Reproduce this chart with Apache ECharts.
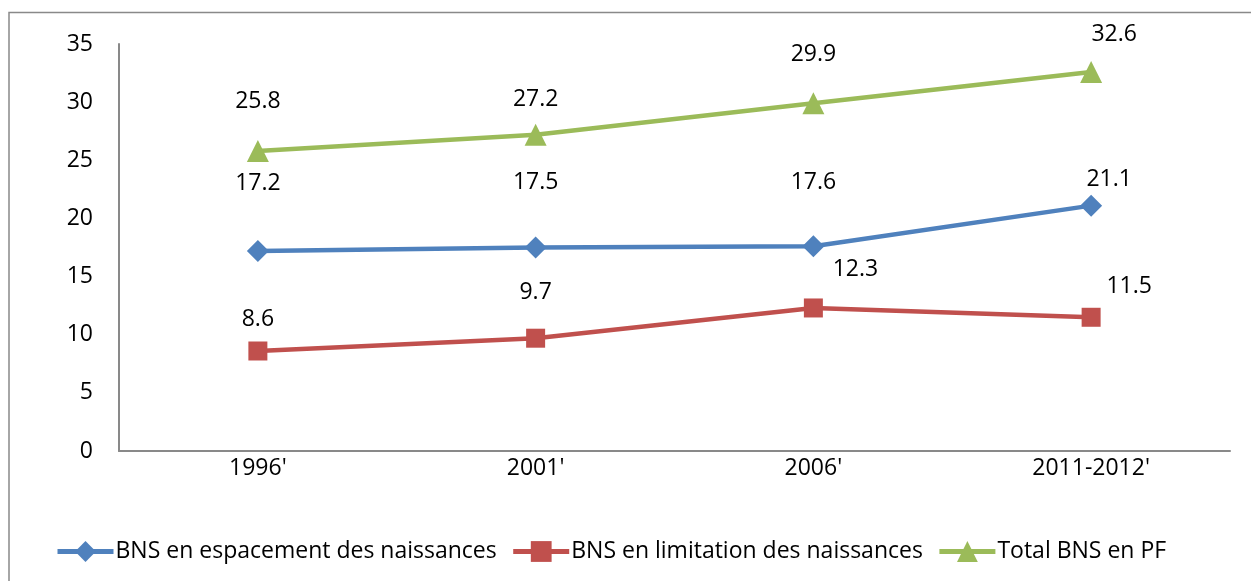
<!DOCTYPE html>
<html><head><meta charset="utf-8">
<script src="https://cdn.jsdelivr.net/npm/echarts@6/dist/echarts.min.js"></script>
<style>html,body{margin:0;padding:0;background:#fff}#c{width:1251px;height:581px}</style>
</head><body><div id="c"></div>
<script>
var categories = ["1996'", "2001'", "2006'", "2011-2012'"];
var espacement = [17.2, 17.5, 17.6, 21.1];
var limitation = [8.6, 9.7, 12.3, 11.5];
var total = [25.8, 27.2, 29.9, 32.6];
var yTicks = { min: 0, max: 35, interval: 5 };
var names = ['BNS en espacement des naissances', 'BNS en limitation des naissances', 'Total BNS en PF'];

var offEsp = [[0,-68],[0,-65],[0,-64],[18,-26]];
var offLim = [[0,-32],[0,-46],[42,-39],[38,-31]];
var offTot = [[0,-50],[0,-35],[0,-49],[23,-37]];

function items(vals, offs) {
  return vals.map(function (v, i) { return { value: v, label: { offset: offs[i] } }; });
}
var font = '"Open Sans", "Noto Sans", sans-serif';
var FS = 23;
function series(name, vals, offs, color, symbol) {
  return {
    name: name, type: 'line', data: items(vals, offs),
    symbol: symbol, symbolSize: symbol === 'triangle' ? 22 : (symbol === 'diamond' ? 22 : 19),
    lineStyle: { color: color, width: 4.5 },
    itemStyle: { color: color },
    label: { show: true, position: 'inside', color: '#000', fontSize: FS, fontFamily: font },
    emphasis: { disabled: true }
  };
}
var chart = echarts.init(document.getElementById('c'));
chart.setOption({
  animation: false,
  graphic: [{ type: 'rect', shape: { x: 9, y: 12.5, width: 1300, height: 620 }, style: { fill: 'none', stroke: '#898989', lineWidth: 1.5 } }],
  grid: { left: 119, right: 21, top: 44, bottom: 130 },
  legend: {
    left: 50, top: 535, itemWidth: 56, itemHeight: 26, itemGap: 14,
    lineStyle: { width: 5 },
    textStyle: { fontSize: FS, fontFamily: font, color: '#000', padding: [0,0,0,-3] },
    data: names
  },
  xAxis: {
    type: 'category', data: categories, boundaryGap: true,
    axisLine: { lineStyle: { color: '#898989', width: 2 } },
    axisTick: { show: false },
    axisLabel: { color: '#000', fontSize: FS, fontFamily: font, margin: 6 }
  },
  yAxis: {
    type: 'value', min: yTicks.min, max: yTicks.max, interval: yTicks.interval,
    splitLine: { show: false },
    axisLine: { show: true, lineStyle: { color: '#898989', width: 2 } },
    axisTick: { show: false },
    axisLabel: { color: '#000', fontSize: FS, fontFamily: font, margin: 26 }
  },
  series: [
    series(names[0], espacement, offEsp, '#4F81BD', 'diamond'),
    series(names[1], limitation, offLim, '#C0504D', 'rect'),
    series(names[2], total, offTot, '#9BBB59', 'triangle')
  ]
});
</script></body></html>
